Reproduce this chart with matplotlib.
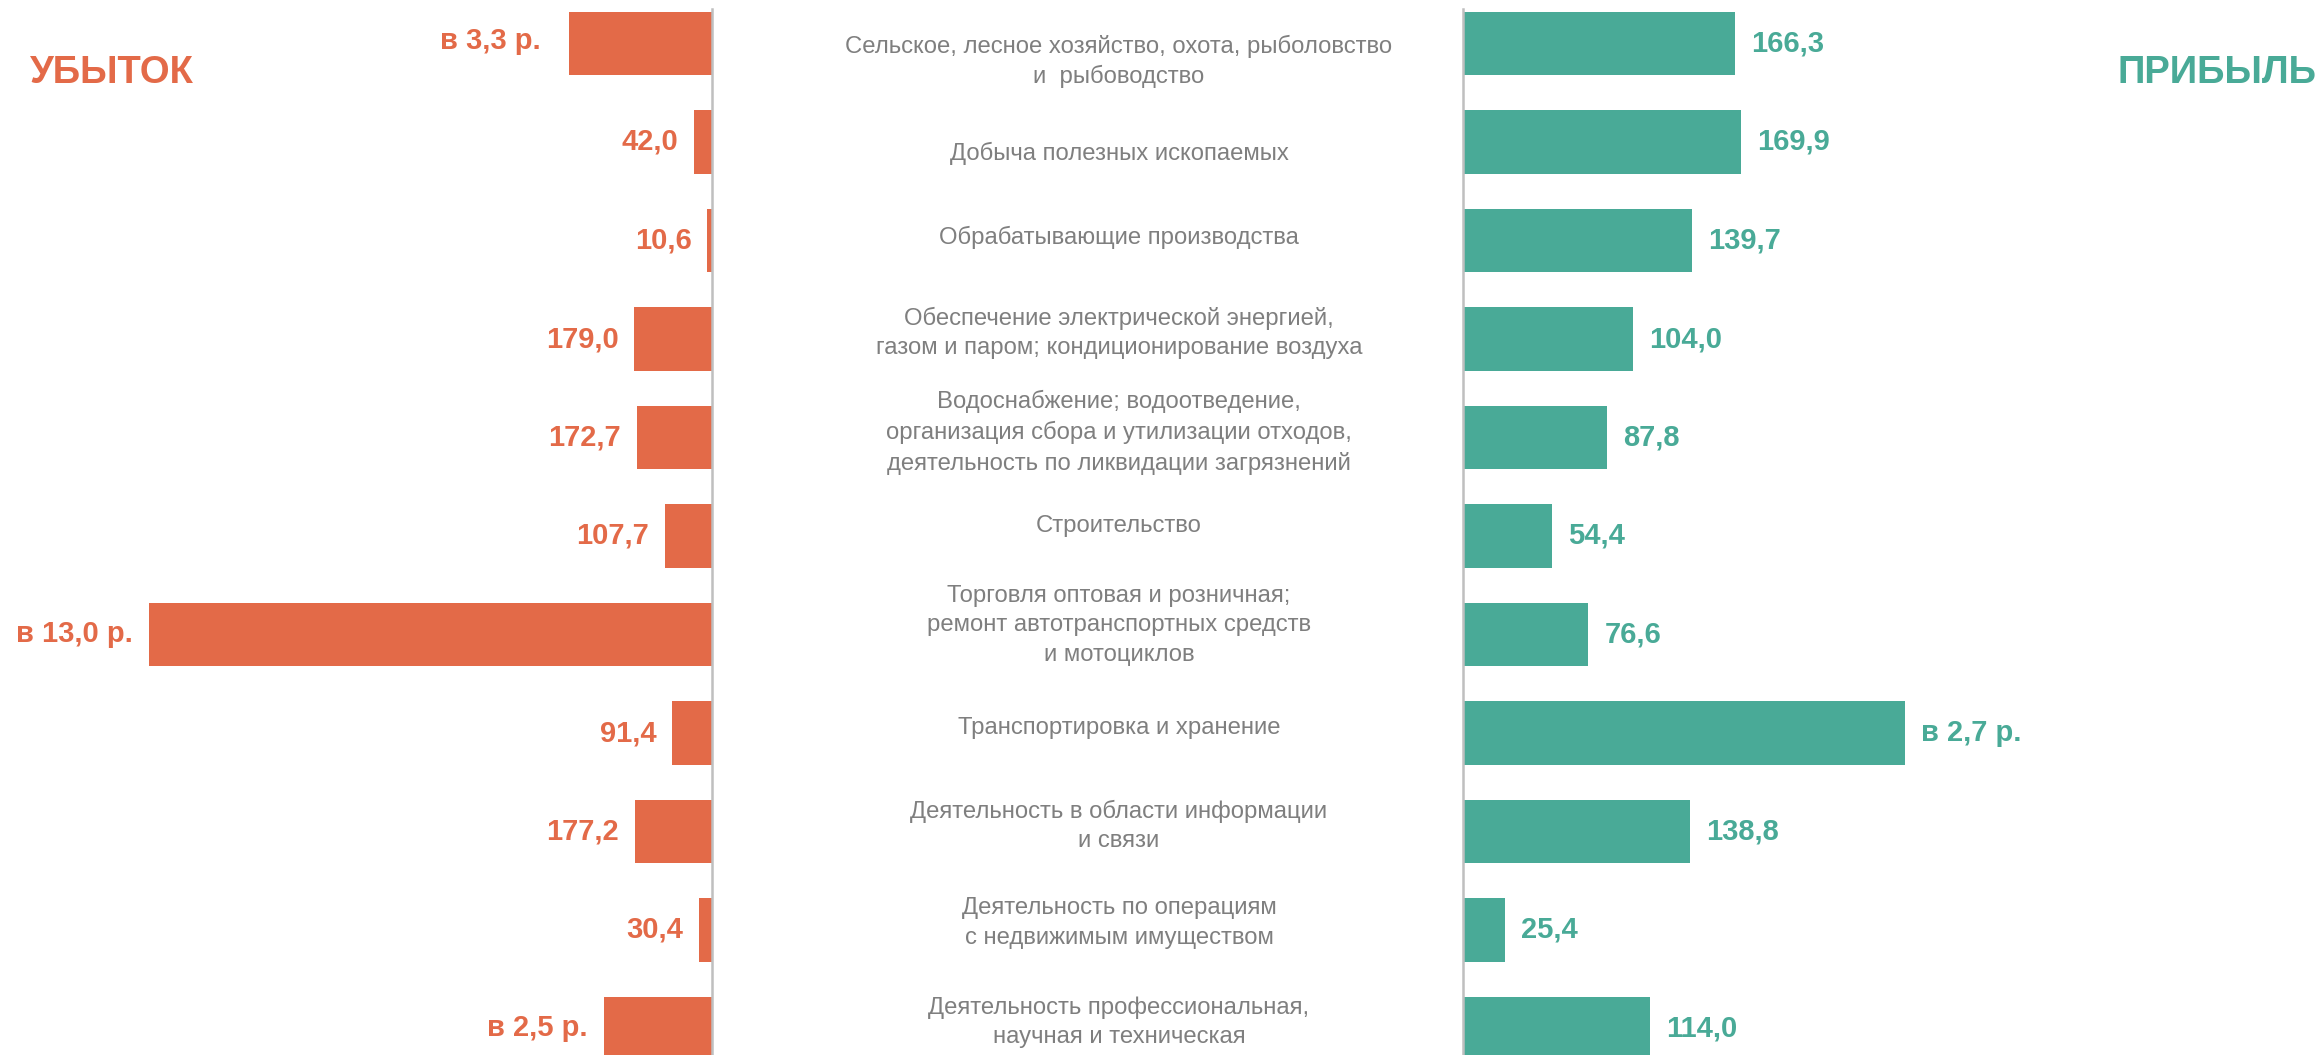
import matplotlib

matplotlib.use("Agg")
import matplotlib.pyplot as plt

# industries (top to bottom)
CATEGORIES = [
    "Сельское, лесное хозяйство, охота, рыболовство\nи  рыбоводство",
    "Добыча полезных ископаемых",
    "Обрабатывающие производства",
    "Обеспечение электрической энергией,\nгазом и паром; кондиционирование воздуха",
    "Водоснабжение; водоотведение,\nорганизация сбора и утилизации отходов,\nдеятельность по ликвидации загрязнений",
    "Строительство",
    "Торговля оптовая и розничная;\nремонт автотранспортных средств\nи мотоциклов",
    "Транспортировка и хранение",
    "Деятельность в области информации\nи связи",
    "Деятельность по операциям\nс недвижимым имуществом",
    "Деятельность профессиональная,\nнаучная и техническая",
]

# % to previous year ("в N р." = N times -> N*100 %)
LOSS_VALUES = [330, 42.0, 10.6, 179.0, 172.7, 107.7, 1300, 91.4, 177.2, 30.4, 250]
LOSS_LABELS = ["в 3,3 р.", "42,0", "10,6", "179,0", "172,7", "107,7",
               "в 13,0 р.", "91,4", "177,2", "30,4", "в 2,5 р."]
PROFIT_VALUES = [166.3, 169.9, 139.7, 104.0, 87.8, 54.4, 76.6, 270, 138.8, 25.4, 114.0]
PROFIT_LABELS = ["166,3", "169,9", "139,7", "104,0", "87,8", "54,4",
                 "76,6", "в 2,7 р.", "138,8", "25,4", "114,0"]

ORANGE = "#E36A48"
TEAL = "#49AA97"
GREY_TEXT = "#7F7F7F"
AXIS_GREY = "#BFBFBF"

plt.rcParams["font.family"] = ["Liberation Sans", "DejaVu Sans"]

W, H, DPI = 2318, 1055, 100
fig = plt.figure(figsize=(W / DPI, H / DPI), dpi=DPI)
fig.patch.set_facecolor("white")

# pixel layout of the rows
row0, pitch, top_px = 43.5, 98.5, 9
y_top = (top_px - row0) / pitch
y_bot = (H - row0) / pitch
ax_h = (H - top_px) / H

left_edge, right_edge = 712, 1463
loss_px_per_unit = 0.4333
profit_px_per_unit = 1.638

ax_l = fig.add_axes([0, 0, left_edge / W, ax_h])
ax_r = fig.add_axes([right_edge / W, 0, (W - right_edge) / W, ax_h])

y = list(range(len(CATEGORIES)))

ax_l.barh(y, LOSS_VALUES, height=0.645, color=ORANGE)
ax_l.set_xlim(left_edge / loss_px_per_unit, 0)
ax_r.barh(y, PROFIT_VALUES, height=0.645, color=TEAL)
ax_r.set_xlim(0, (W - right_edge) / profit_px_per_unit)

for ax in (ax_l, ax_r):
    ax.set_ylim(y_bot, y_top)
    ax.set_xticks([])
    ax.set_yticks([])
    for s in ax.spines.values():
        s.set_visible(False)
    ax.set_facecolor("none")

ax_l.spines["right"].set_visible(True)
ax_l.spines["right"].set_color(AXIS_GREY)
ax_l.spines["right"].set_linewidth(1.8)
ax_r.spines["left"].set_visible(True)
ax_r.spines["left"].set_color(AXIS_GREY)
ax_r.spines["left"].set_linewidth(1.8)

for yi, v, lab in zip(y, LOSS_VALUES, LOSS_LABELS):
    dx, dy = (-20, 2) if yi == 0 else (-11.5, 0)
    ax_l.annotate(lab, (v, yi), xytext=(dx, dy), textcoords="offset points",
                  ha="right", va="center", fontsize=21, fontweight="bold", color=ORANGE)
for yi, v, lab in zip(y, PROFIT_VALUES, PROFIT_LABELS):
    ax_r.annotate(lab, (v, yi), xytext=(11.5, 0), textcoords="offset points",
                  ha="left", va="center", fontsize=21, fontweight="bold", color=TEAL)

# category names between the two panels
label_shift = [18, 11, -3, -6, -5, -10, -9, -5, -6, -7, -6]
for yi, name, dy in zip(y, CATEGORIES, label_shift):
    ypx = row0 + pitch * yi + dy
    fig.text(1119 / W, 1 - ypx / H, name, ha="center", va="center",
             fontsize=17.2, color=GREY_TEXT, linespacing=1.42)

fig.text(30 / W, 1 - 73 / H, "УБЫТОК", ha="left", va="center",
         fontsize=27.5, fontweight="bold", color=ORANGE)
fig.text(2317 / W, 1 - 73 / H, "ПРИБЫЛЬ", ha="right", va="center",
         fontsize=27.5, fontweight="bold", color=TEAL)

fig.savefig("out.png", dpi=DPI, facecolor="white")
